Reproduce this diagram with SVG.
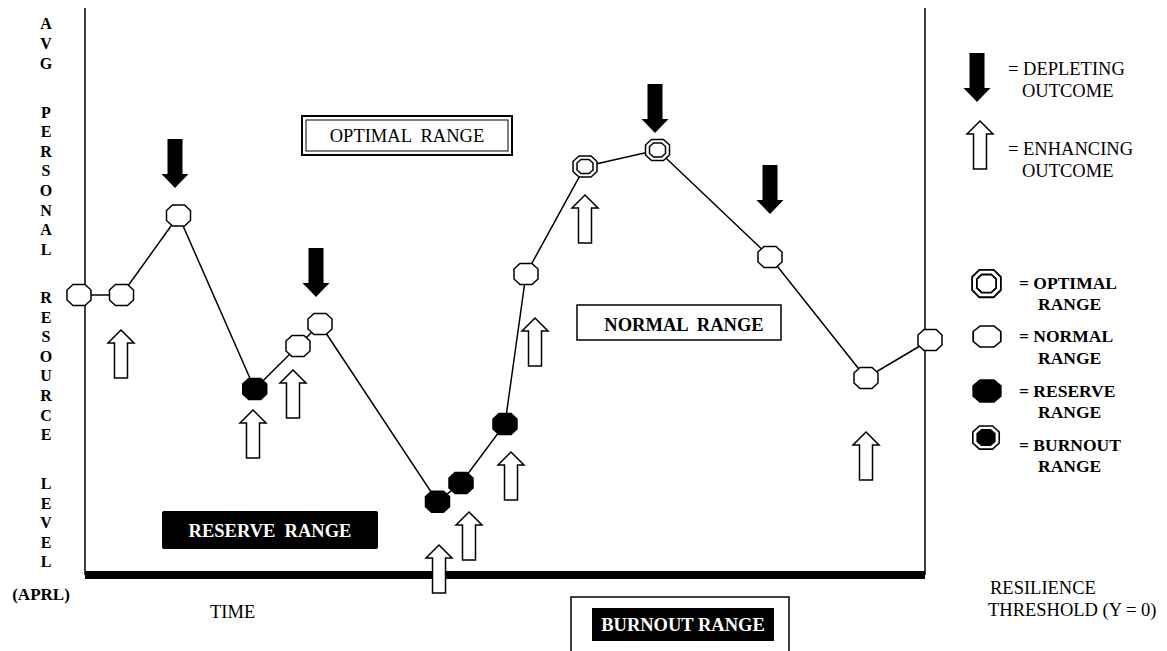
<svg xmlns="http://www.w3.org/2000/svg" width="1167" height="651" viewBox="0 0 1167 651">
<style>
text{font-family:"Liberation Serif","Times New Roman",serif;fill:#000;white-space:pre}
.ax{font-size:16px;font-weight:bold;text-anchor:middle}
.apr{font-size:17px;font-weight:bold;text-anchor:middle}
.lg{font-size:18.5px}
.lb{font-size:18.5px;font-weight:bold}
.lgb{font-size:17.5px;font-weight:bold}
.wt{fill:#fff;font-weight:bold;font-size:18.5px;text-anchor:middle}
.ln{stroke:#000;stroke-width:1.5;fill:none}
.nrm{fill:#fff;stroke:#000;stroke-width:1.5}
.blk{fill:#000;stroke:#000;stroke-width:1.5}
.up{fill:#fff;stroke:#000;stroke-width:1.5;stroke-linejoin:miter}
.dn{fill:#000}
</style>
<defs>
<path id="oct" d="M-6,-10.5 L6,-10.5 L12,-5 L12,5 L6,10.5 L-6,10.5 L-12,5 L-12,-5 Z"/>
<path id="octs" d="M-4,-7 L4,-7 L8,-3.5 L8,3.5 L4,7 L-4,7 L-8,3.5 L-8,-3.5 Z"/>
<path id="upa" d="M0,0 L13,13 L6.5,13 L6.5,48 L-6.5,48 L-6.5,13 L-13,13 Z"/>
<path id="dna" d="M-7.5,-49 L7.5,-49 L7.5,-14 L13.5,-14 L0,0 L-13.5,-14 L-7.5,-14 Z"/>
<g id="optn"><use href="#oct" class="nrm" stroke-width="2"/><use href="#octs" class="nrm" stroke-width="1.5"/></g>
</defs>

<g id="frame">
<line x1="85" y1="8" x2="85" y2="575" class="ln"/>
<line x1="925" y1="8" x2="925" y2="575" class="ln"/>
<rect x="85" y="571" width="840" height="8" fill="#000"/>
</g>

<g id="axis-label">
<text class="ax"><tspan x="46" y="28.5">A</tspan><tspan x="46" y="48.5">V</tspan><tspan x="46" y="69">G</tspan><tspan x="46" y="117.5">P</tspan><tspan x="46" y="137.1">E</tspan><tspan x="46" y="156.7">R</tspan><tspan x="46" y="176.3">S</tspan><tspan x="46" y="195.9">O</tspan><tspan x="46" y="215.5">N</tspan><tspan x="46" y="235.1">A</tspan><tspan x="46" y="254.7">L</tspan><tspan x="46" y="303">R</tspan><tspan x="46" y="322.6">E</tspan><tspan x="46" y="342.2">S</tspan><tspan x="46" y="361.8">O</tspan><tspan x="46" y="381.4">U</tspan><tspan x="46" y="401">R</tspan><tspan x="46" y="420.6">C</tspan><tspan x="46" y="440.2">E</tspan><tspan x="46" y="489.3">L</tspan><tspan x="46" y="508.8">E</tspan><tspan x="46" y="528.3">V</tspan><tspan x="46" y="547.8">E</tspan><tspan x="46" y="567.3">L</tspan></text>
<text x="41" y="600" class="apr">(APRL)</text>
</g>

<g id="connectors">
<polyline class="ln" points="79,295 121.5,295 178.5,215.5 254.7,389 298,346 320,324 437.5,501.7 461,483 505,424 526,274 585,166.5 657.5,150 770,257 866,378 930,340"/>
</g>

<g id="n1"><use href="#oct" class="nrm" x="79" y="295"/></g>
<g id="n2"><use href="#oct" class="nrm" x="121.5" y="295"/></g>
<g id="n3"><use href="#oct" class="nrm" x="178.5" y="215.5"/></g>
<g id="n4"><use href="#oct" class="blk" x="254.7" y="389"/></g>
<g id="n5"><use href="#oct" class="nrm" x="298" y="346"/></g>
<g id="n6"><use href="#oct" class="nrm" x="320" y="324"/></g>
<g id="n7"><use href="#oct" class="blk" x="437.5" y="501.7"/></g>
<g id="n8"><use href="#oct" class="blk" x="461" y="483"/></g>
<g id="n9"><use href="#oct" class="blk" x="505" y="424"/></g>
<g id="n10"><use href="#oct" class="nrm" x="526" y="274"/></g>
<g id="n11"><use href="#optn" transform="translate(585,166.5)"/></g>
<g id="n12"><use href="#optn" transform="translate(657.5,150)"/></g>
<g id="n13"><use href="#oct" class="nrm" x="770" y="257"/></g>
<g id="n14"><use href="#oct" class="nrm" x="866" y="378"/></g>
<g id="n15"><use href="#oct" class="nrm" x="930" y="340"/></g>

<g id="depleting-arrows">
<use href="#dna" class="dn" x="175" y="188"/>
<use href="#dna" class="dn" x="316" y="297"/>
<use href="#dna" class="dn" x="655" y="133"/>
<use href="#dna" class="dn" x="770" y="214"/>
</g>

<g id="enhancing-arrows">
<use href="#upa" class="up" x="121" y="330"/>
<use href="#upa" class="up" x="253" y="410"/>
<use href="#upa" class="up" x="293" y="370"/>
<use href="#upa" class="up" x="439" y="545"/>
<use href="#upa" class="up" x="469" y="512"/>
<use href="#upa" class="up" x="511" y="452"/>
<use href="#upa" class="up" x="535" y="318"/>
<use href="#upa" class="up" x="585" y="195"/>
<use href="#upa" class="up" x="866" y="432"/>
</g>

<g id="optimal-box">
<rect x="302" y="116" width="210" height="39" fill="#fff" stroke="#000" stroke-width="2"/>
<rect x="306" y="120" width="202" height="31" fill="none" stroke="#000" stroke-width="1"/>
<text x="407" y="142" class="lg" text-anchor="middle">OPTIMAL  RANGE</text>
</g>

<g id="normal-box">
<rect x="577" y="305" width="204" height="35" fill="#fff" stroke="#000" stroke-width="1.5"/>
<text x="684" y="331" class="lb" text-anchor="middle">NORMAL  RANGE</text>
</g>

<g id="reserve-box">
<rect x="162" y="511" width="216" height="38" rx="2" fill="#000"/>
<text x="270" y="537" class="wt">RESERVE  RANGE</text>
</g>

<g id="burnout-box">
<rect x="571" y="597" width="218" height="60" fill="#fff" stroke="#000" stroke-width="1.5"/>
<rect x="592" y="608" width="182" height="33" fill="#000"/>
<text x="683" y="631" class="wt">BURNOUT RANGE</text>
</g>

<g id="time-label"><text x="210" y="618" class="lg">TIME</text></g>

<g id="threshold-label">
<text x="990" y="594" class="lg">RESILIENCE</text>
<text x="988" y="616" class="lg">THRESHOLD (Y = 0)</text>
</g>

<g id="legend">
<use href="#dna" class="dn" x="977" y="102"/>
<text x="1008" y="75" class="lg">= DEPLETING</text>
<text x="1022" y="97" class="lg">OUTCOME</text>
<use href="#upa" class="up" x="980" y="121"/>
<text x="1008" y="155" class="lg">= ENHANCING</text>
<text x="1022" y="177" class="lg">OUTCOME</text>

<g transform="translate(986.5,283.5) scale(1.2,1.3)"><use href="#oct" class="nrm" stroke-width="1.6"/><use href="#octs" class="nrm" stroke-width="1.4"/></g>
<text x="1019" y="289" class="lgb">= OPTIMAL</text>
<text x="1038" y="310" class="lgb">RANGE</text>

<g transform="translate(987,336.5) scale(1.15,1)"><use href="#oct" class="nrm"/></g>
<text x="1019" y="342" class="lgb">= NORMAL</text>
<text x="1038" y="364" class="lgb">RANGE</text>

<g transform="translate(987,391) scale(1.15,1.05)"><use href="#oct" class="blk"/></g>
<text x="1019" y="397" class="lgb">= RESERVE</text>
<text x="1038" y="418" class="lgb">RANGE</text>

<g transform="translate(986,437.5) scale(1.1,1.1)"><use href="#oct" class="nrm" stroke-width="1.6"/><use href="#octs" class="blk" stroke-width="1"/></g>
<text x="1019" y="451" class="lgb">= BURNOUT</text>
<text x="1038" y="472" class="lgb">RANGE</text>
</g>
</svg>
